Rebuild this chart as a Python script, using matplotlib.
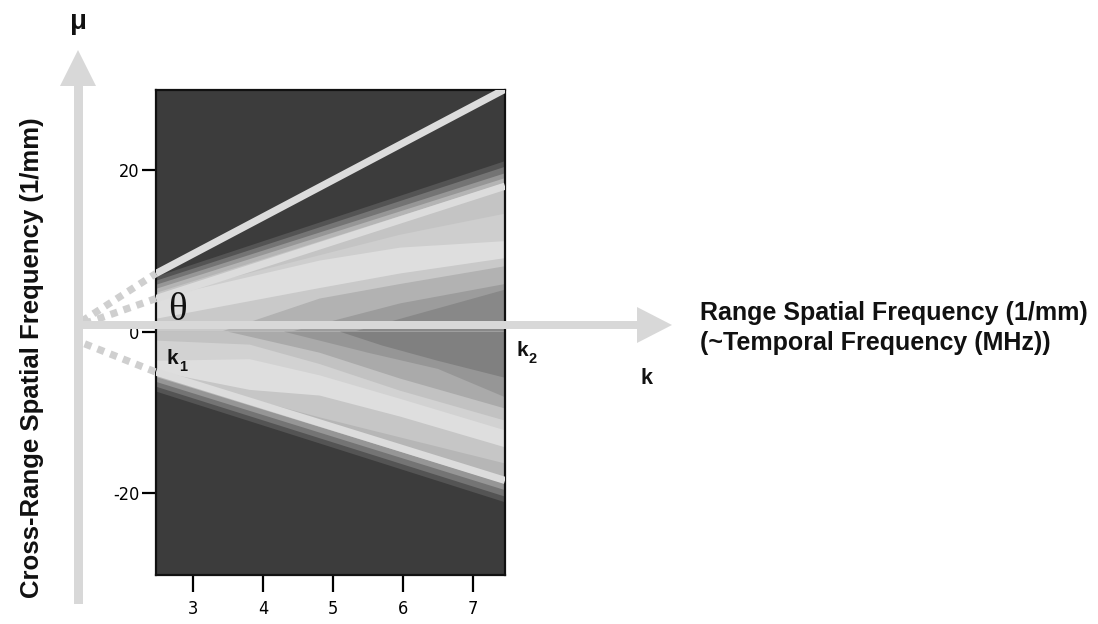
import matplotlib
matplotlib.use("Agg")
import matplotlib.pyplot as plt
from matplotlib.patches import Polygon

# ---------------- data ----------------
K_RANGE = (2.47, 7.46)
MU_RANGE = (-30.1, 29.9)
x_ticks = [3, 4, 5, 6, 7]
x_ticklabels = ["3", "4", "5", "6", "7"]
y_ticks = [-20, 0, 20]
y_ticklabels = ["-20", "0", "20"]

# contour band boundaries above the centre line (outer -> inner): k points, mu points, fill colour inside
U0_k, U0_mu = [2.47, 7.46], [6.8, 21.1]
U1_k, U1_mu = [2.47, 7.46], [6.3, 20.4]
U2_k, U2_mu = [2.47, 7.46], [5.8, 19.6]
U3_k, U3_mu = [2.47, 7.46], [5.3, 19.0]
U4_k, U4_mu = [2.47, 7.46], [4.8, 18.4]
U5_k, U5_mu = [2.47, 5.96, 7.46], [4.3, 12.0, 14.6]
U6_k, U6_mu = [2.47, 4.81, 5.96, 7.46], [4.1, 8.8, 10.4, 11.2]
U7_k, U7_mu = [2.47, 4.81, 5.96, 7.46], [1.6, 5.4, 7.2, 9.1]
U8_k, U8_mu = [3.4, 4.81, 5.96, 7.46], [0.0, 4.1, 5.9, 8.1]
U9_k, U9_mu = [4.4, 5.96, 7.46], [0.0, 3.5, 5.9]
U10_k, U10_mu = [5.3, 6.38, 7.46], [0.0, 2.6, 5.2]
upper_colors = ["#545454", "#747474", "#969696", "#b4b4b4", "#c4c4c4", "#cecece",
                "#dedede", "#c9c9c9", "#b2b2b2", "#9c9c9c", "#888888"]

# contour band boundaries below the centre line (outer -> inner)
D0_k, D0_mu = [2.47, 7.46], [-7.4, -21.1]
D1_k, D1_mu = [2.47, 7.46], [-6.8, -20.4]
D2_k, D2_mu = [2.47, 7.46], [-6.2, -19.6]
D3_k, D3_mu = [2.47, 7.46], [-5.6, -18.8]
D4_k, D4_mu = [2.47, 4.81, 7.46], [-5.2, -10.6, -16.3]
D5_k, D5_mu = [2.47, 3.81, 4.81, 5.96, 7.46], [-4.9, -7.2, -7.9, -10.5, -14.3]
D6_k, D6_mu = [2.47, 3.81, 4.81, 5.96, 7.46], [-3.6, -3.4, -5.4, -8.3, -12.2]
D7_k, D7_mu = [2.47, 3.81, 4.81, 5.96, 7.46], [-1.1, -1.6, -4.0, -7.3, -11.0]
D8_k, D8_mu = [3.5, 4.81, 5.96, 7.46], [0.0, -2.6, -5.8, -9.5]
D9_k, D9_mu = [4.3, 5.5, 6.5, 7.46], [0.0, -2.6, -4.6, -8.1]
D10_k, D10_mu = [5.1, 5.7, 6.5, 7.46], [0.0, -1.7, -3.6, -5.7]
lower_colors = ["#545454", "#747474", "#969696", "#b6b6b6", "#c6c6c6", "#dedede",
                "#d2d2d2", "#c2c2c2", "#aaaaaa", "#969696", "#808080"]

upper_bounds = [(U0_k, U0_mu), (U1_k, U1_mu), (U2_k, U2_mu), (U3_k, U3_mu), (U4_k, U4_mu),
                (U5_k, U5_mu), (U6_k, U6_mu), (U7_k, U7_mu), (U8_k, U8_mu), (U9_k, U9_mu),
                (U10_k, U10_mu)]
lower_bounds = [(D0_k, D0_mu), (D1_k, D1_mu), (D2_k, D2_mu), (D3_k, D3_mu), (D4_k, D4_mu),
                (D5_k, D5_mu), (D6_k, D6_mu), (D7_k, D7_mu), (D8_k, D8_mu), (D9_k, D9_mu),
                (D10_k, D10_mu)]

# overlaid guide lines (solid part inside the plot, dotted extension toward the origin)
line_upper_k, line_upper_mu = [2.47, 7.46], [7.2, 30.0]
line_mid_k, line_mid_mu = [2.47, 7.46], [4.1, 18.0]
line_low_k, line_low_mu = [2.47, 7.46], [-5.0, -18.4]
dot_upper_k, dot_upper_mu = [1.41, 2.47], [1.3, 7.2]
dot_mid_k, dot_mid_mu = [1.45, 2.47], [1.0, 4.1]
dot_low_k, dot_low_mu = [1.45, 2.47], [-1.5, -5.0]

# ---------------- figure ----------------
W, H = 1098, 624
fig = plt.figure(figsize=(W / 100, H / 100), dpi=100)
fig.patch.set_facecolor("white")

ax = fig.add_axes([156 / W, 1 - 575 / H, 349 / W, 485 / H])
ax.set_xlim(*K_RANGE)
ax.set_ylim(*MU_RANGE)
ax.set_facecolor("#3c3c3c")

for (kk, mm), col in zip(upper_bounds, upper_colors):
    pts = list(zip(kk, mm)) + [(kk[-1], 0.0), (kk[0], 0.0)]
    ax.add_patch(Polygon(pts, closed=True, facecolor=col, edgecolor="none", lw=0, zorder=1))
for (kk, mm), col in zip(lower_bounds, lower_colors):
    pts = list(zip(kk, mm)) + [(kk[-1], 0.0), (kk[0], 0.0)]
    ax.add_patch(Polygon(pts, closed=True, facecolor=col, edgecolor="none", lw=0, zorder=1))

line_col = "#dcdcdc"
for kk, mm in [(line_upper_k, line_upper_mu), (line_mid_k, line_mid_mu), (line_low_k, line_low_mu)]:
    ax.plot(kk, mm, color=line_col, lw=5.2, solid_capstyle="butt", zorder=3)
for kk, mm in [(dot_upper_k, dot_upper_mu), (dot_mid_k, dot_mid_mu), (dot_low_k, dot_low_mu)]:
    ax.plot(kk, mm, color="#cfcfcf", lw=5.2, dashes=(1.0, 0.9), dash_capstyle="butt",
            clip_on=False, zorder=3)

ax.set_xticks(x_ticks)
ax.set_xticklabels(x_ticklabels)
ax.set_yticks(y_ticks)
ax.set_yticklabels(y_ticklabels)
for lab in ax.get_xticklabels() + ax.get_yticklabels():
    lab.set_family(["DejaVu Sans"])
    lab.set_fontstretch("condensed")
ax.tick_params(direction="out", length=10, width=1.6, color="black", labelsize=13, pad=2)
ax.tick_params(axis="x", length=12, pad=6)
for sp in ax.spines.values():
    sp.set_linewidth(1.6)
    sp.set_color("#111111")

# ---------------- overlay (axis arrows, labels) ----------------
ov = fig.add_axes([0, 0, 1, 1], zorder=5)
ov.set_xlim(0, W)
ov.set_ylim(H, 0)
ov.axis("off")
ov.patch.set_alpha(0)

arrow_col = "#d8d8d8"
# vertical arrow
ov.add_patch(Polygon([(74, 85), (83, 85), (83, 604), (74, 604)], closed=True,
                     facecolor=arrow_col, edgecolor="none"))
ov.add_patch(Polygon([(60, 86), (96, 86), (78, 50)], closed=True,
                     facecolor=arrow_col, edgecolor="none"))
# horizontal arrow
ov.add_patch(Polygon([(74, 321), (638, 321), (638, 329), (74, 329)], closed=True,
                     facecolor=arrow_col, edgecolor="none"))
ov.add_patch(Polygon([(637, 307), (637, 343), (672, 325)], closed=True,
                     facecolor=arrow_col, edgecolor="none"))

bold_font = ["Liberation Sans", "DejaVu Sans"]
ov.text(78, 22, "\u03bc", ha="center", va="center", fontsize=20, fontweight="bold",
        family=bold_font, color="#111111")
ov.text(177, 310, "\u03b8", ha="center", va="center", fontsize=28,
        family=["Liberation Serif", "DejaVu Serif"], color="#111111")
ov.text(172, 359, "k", ha="center", va="center", fontsize=15, fontweight="bold",
        family=bold_font, color="#111111")
ov.text(183, 367, "1", ha="center", va="center", fontsize=10.5, fontweight="bold",
        family=bold_font, color="#111111")
ov.text(522, 351, "k", ha="center", va="center", fontsize=15, fontweight="bold",
        family=bold_font, color="#111111")
ov.text(533, 359, "2", ha="center", va="center", fontsize=10.5, fontweight="bold",
        family=bold_font, color="#111111")
ov.text(647, 378, "k", ha="center", va="center", fontsize=15.5, fontweight="bold",
        family=bold_font, color="#111111")
ov.text(700, 313, "Range Spatial Frequency (1/mm)", ha="left", va="center", fontsize=18,
        fontweight="bold", family=bold_font, color="#111111")
ov.text(700, 343, "(~Temporal Frequency (MHz))", ha="left", va="center", fontsize=18,
        fontweight="bold", family=bold_font, color="#111111")
ov.text(32, 358, "Cross-Range Spatial Frequency (1/mm)", ha="center", va="center",
        rotation=90, fontsize=18.5, fontweight="bold", family=bold_font, color="#111111")

fig.savefig("out.png", dpi=100)
